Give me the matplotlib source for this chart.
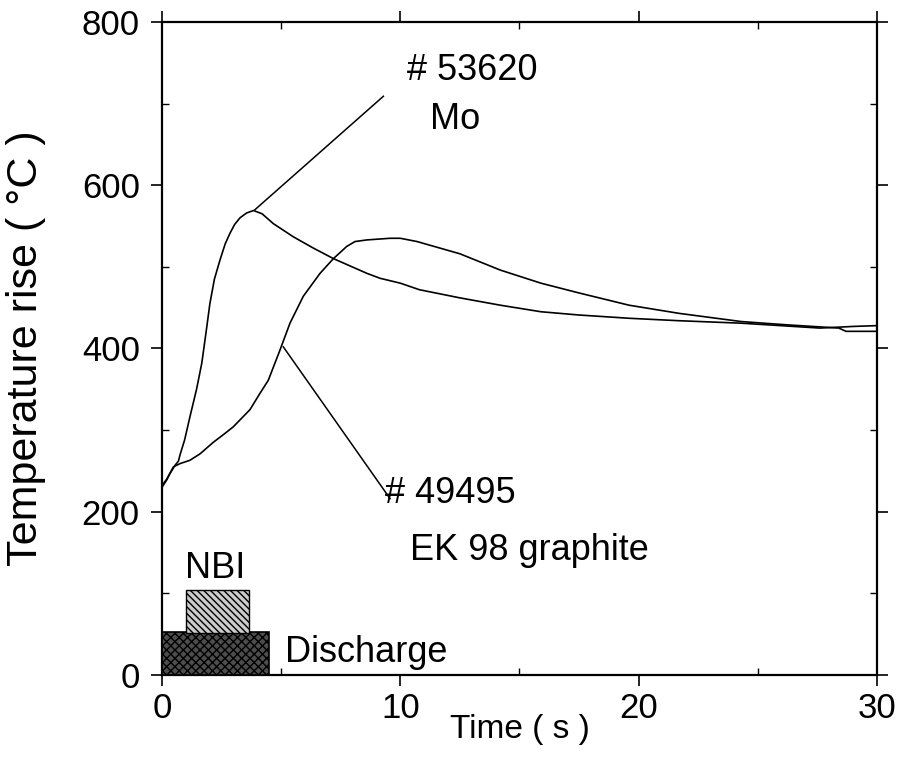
import matplotlib
matplotlib.use("Agg")
import matplotlib.pyplot as plt
from matplotlib.patches import Rectangle
from matplotlib.ticker import MultipleLocator

plt.rcParams['font.family'] = ['Liberation Sans', 'DejaVu Sans']

# Shot #53620, Mo tile
mo_t = [0.0, 0.0, 0.2, 0.34, 0.55, 0.69, 0.76, 0.95, 1.17, 1.45, 1.67, 1.85, 2.01,
        2.2, 2.43, 2.65, 2.85, 3.05, 3.27, 3.55, 3.84, 4.2, 4.67, 5.5, 6.35, 7.2,
        8.6, 9.15, 10.0, 10.8, 12.5, 14.2, 15.9, 17.5, 19.6, 21.7, 24.3, 27.6,
        29.0, 30.0]
mo_T = [0, 230, 239, 247, 257, 262, 270, 288, 316, 350, 382, 420, 455,
        485, 508, 528, 541, 552, 560, 566, 569, 565, 553, 537, 523, 510,
        492, 486, 480, 472, 462, 453, 445, 441, 437, 434, 431, 425,
        427, 428]

# Shot #49495, EK 98 graphite tile
gr_t = [0.0, 0.0, 0.2, 0.48, 0.76, 1.17, 1.6, 2.15, 2.6, 2.99, 3.69, 4.11, 4.46,
        4.95, 5.37, 5.93, 6.63, 7.19, 7.75, 8.1, 8.6, 9.57, 10.0, 10.7, 11.66,
        12.5, 14.2, 15.9, 17.5, 19.6, 21.7, 24.3, 26.2, 28.4, 28.7, 30.0]
gr_T = [0, 232, 240, 255, 259, 263, 271, 285, 295, 304, 325, 345, 361,
        398, 431, 464, 492, 510, 525, 531, 533, 535, 535, 531, 523,
        516, 496, 480, 468, 453, 443, 433, 429, 425, 421, 421]

# Heating phases (start, end, height)
discharge = (0.0, 4.5, 53)
nbi = (1.0, 3.65, 52, 104)

x_ticks = [0, 10, 20, 30]
y_ticks = [0, 200, 400, 600, 800]

fig = plt.figure(figsize=(9.09, 7.68), dpi=100)
ax = fig.add_axes([0.1782, 0.1211, 0.9648 - 0.1782, 0.9714 - 0.1211])

ax.plot(mo_t, mo_T, color='black', lw=1.2, solid_joinstyle='round')
ax.plot(gr_t, gr_T, color='black', lw=1.2, solid_joinstyle='round')

# Heating phase boxes
ax.add_patch(Rectangle((discharge[0], 0), discharge[1] - discharge[0], discharge[2],
                       facecolor='0.3', edgecolor='black', hatch='xxxx', lw=1.2, zorder=3))
ax.add_patch(Rectangle((nbi[0], nbi[2]), nbi[1] - nbi[0], nbi[3] - nbi[2],
                       facecolor='0.8', edgecolor='black', hatch='\\\\\\\\\\', lw=1.0, zorder=3))

# Leader lines and labels
ax.plot([3.9, 9.29], [570, 709], color='black', lw=1.1)
ax.plot([5.09, 9.57], [402, 216], color='black', lw=1.1)

fs = 26
ax.text(10.28, 741, '# 53620', fontsize=fs, va='center', ha='left')
ax.text(11.25, 680, 'Mo', fontsize=fs, va='center', ha='left')
ax.text(9.36, 222, '# 49495', fontsize=fs, va='center', ha='left')
ax.text(10.4, 153, 'EK 98 graphite', fontsize=fs, va='center', ha='left')
ax.text(0.97, 131, 'NBI', fontsize=fs, va='center', ha='left')
ax.text(5.16, 28, 'Discharge', fontsize=fs, va='center', ha='left')

ax.set_xlim(0, 30)
ax.set_ylim(0, 800)
ax.set_xticks(x_ticks)
ax.set_yticks(y_ticks)
ax.xaxis.set_minor_locator(MultipleLocator(5))
ax.yaxis.set_minor_locator(MultipleLocator(100))
ax.tick_params(which='major', direction='out', length=8, width=1.2, labelsize=25)
ax.tick_params(axis='x', which='major', pad=4)
ax.tick_params(axis='y', which='major', pad=8)
ax.tick_params(which='minor', direction='in', length=5, width=1.0)
ax.tick_params(which='both', top=True, right=True)

for s in ax.spines.values():
    s.set_linewidth(1.6)

ax.set_xlabel('Time ( s )', fontsize=24, labelpad=-8)
ax.set_ylabel('Temperature rise ( °C )', fontsize=31, labelpad=26)

fig.savefig('out.png', dpi=100)
